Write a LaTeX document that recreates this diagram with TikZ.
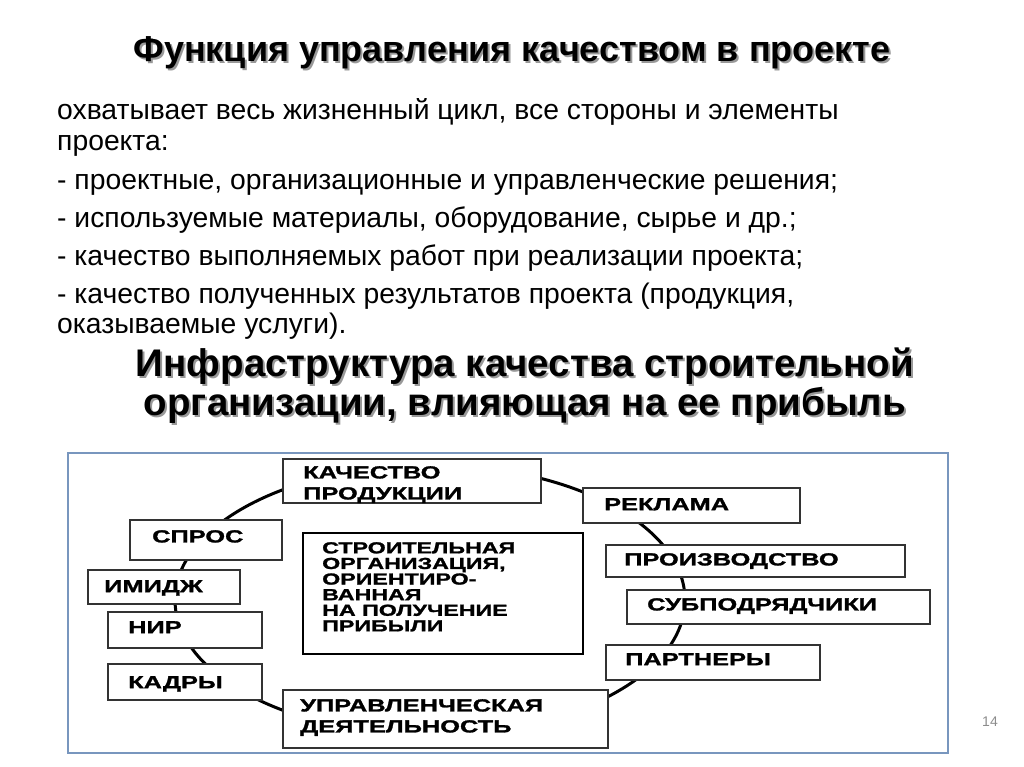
\documentclass[tikz,border=0pt]{standalone}
\usepackage{fontspec}
\setmainfont{Liberation Sans}
\newfontfamily\boxfont[FakeStretch=1.45,FakeBold=1.5]{Liberation Sans Bold}
\begin{document}
\begin{tikzpicture}[x=1pt,y=-1pt,
  bx/.style={draw=black!80,line width=1.2pt,fill=white,inner sep=0pt},
  bt/.style={font=\boxfont\fontsize{17.5}{21}\selectfont,align=left,anchor=north west,inner sep=0pt},
  body/.style={font=\fontsize{28.3}{30}\selectfont,anchor=base west,inner sep=0pt}]
\useasboundingbox (0,0) rectangle (1024,767);
\fill[white] (0,0) rectangle (1024,767);
% titles
\node[font=\bfseries\fontsize{36}{40}\selectfont,text=black!40] (tsh) at (514,55) {Функция управления качеством в проекте};
\node[font=\bfseries\fontsize{36}{40}\selectfont] (t1) at (512,53) {Функция управления качеством в проекте};
\node[body] (l1) at (57,120) {охватывает весь жизненный цикл, все стороны и элементы};
\node[body] (l2) at (57,151) {проекта:};
\node[body] (l3) at (57,190) {- проектные, организационные и управленческие решения;};
\node[body] (l4) at (57,228) {- используемые материалы, оборудование, сырье и др.;};
\node[body] (l5) at (57,265) {- качество выполняемых работ при реализации проекта;};
\node[body] (l6) at (57,303) {- качество полученных результатов проекта (продукция,};
\node[body] (l7) at (57,333) {оказываемые услуги).};
\node[font=\bfseries\fontsize{38.5}{39}\selectfont,align=center,text=black!40] (t2s) at (527,388) {Инфраструктура качества строительной\\организации, влияющая на ее прибыль};
\node[font=\bfseries\fontsize{38.5}{39}\selectfont,align=center] (t2) at (525,386) {Инфраструктура качества строительной\\организации, влияющая на ее прибыль};
% frame
\draw[draw={rgb,255:red,120;green,150;blue,190},line width=2pt] (68,453) rectangle (948,753);
% ring
\draw[line width=3pt] (430,600) ellipse [x radius=255,y radius=135];
% boxes
\draw[bx] (283,459) rectangle (541,503); \node[bt] (a) at (303,466) {КАЧЕСТВО\\ПРОДУКЦИИ};
\draw[bx] (583,488) rectangle (800,523); \node[bt] (b) at (604,498) {РЕКЛАМА};
\draw[bx] (130,520) rectangle (282,560); \node[bt] (c) at (152,530) {СПРОС};
\draw[line width=2.2pt,fill=white] (303,533) rectangle (583,654);
\node[anchor=north west,inner sep=0pt,align=left,font=\boxfont\fontsize{16}{15.6}\selectfont] (d) at (322,542) {СТРОИТЕЛЬНАЯ\\ОРГАНИЗАЦИЯ,\\ОРИЕНТИРО-\\ВАННАЯ\\НА ПОЛУЧЕНИЕ\\ПРИБЫЛИ};
\draw[bx] (606,545) rectangle (905,577); \node[bt] (e) at (624,553) {ПРОИЗВОДСТВО};
\draw[bx] (88,570) rectangle (240,604); \node[bt] (f) at (104,580) {ИМИДЖ};
\draw[bx] (627,590) rectangle (930,624); \node[bt] (g) at (647,598) {СУБПОДРЯДЧИКИ};
\draw[bx] (108,612) rectangle (262,648); \node[bt] (h) at (128,621) {НИР};
\draw[bx] (606,645) rectangle (820,680); \node[bt] (i) at (625,653) {ПАРТНЕРЫ};
\draw[bx] (108,664) rectangle (262,700); \node[bt] (j) at (128,676) {КАДРЫ};
\draw[bx] (283,690) rectangle (608,748); \node[bt] (k) at (300,699) {УПРАВЛЕНЧЕСКАЯ\\ДЕЯТЕЛЬНОСТЬ};
\node[text=black!45,font=\fontsize{14}{14}\selectfont] (pn) at (990,722) {14};
\end{tikzpicture}
\end{document}
